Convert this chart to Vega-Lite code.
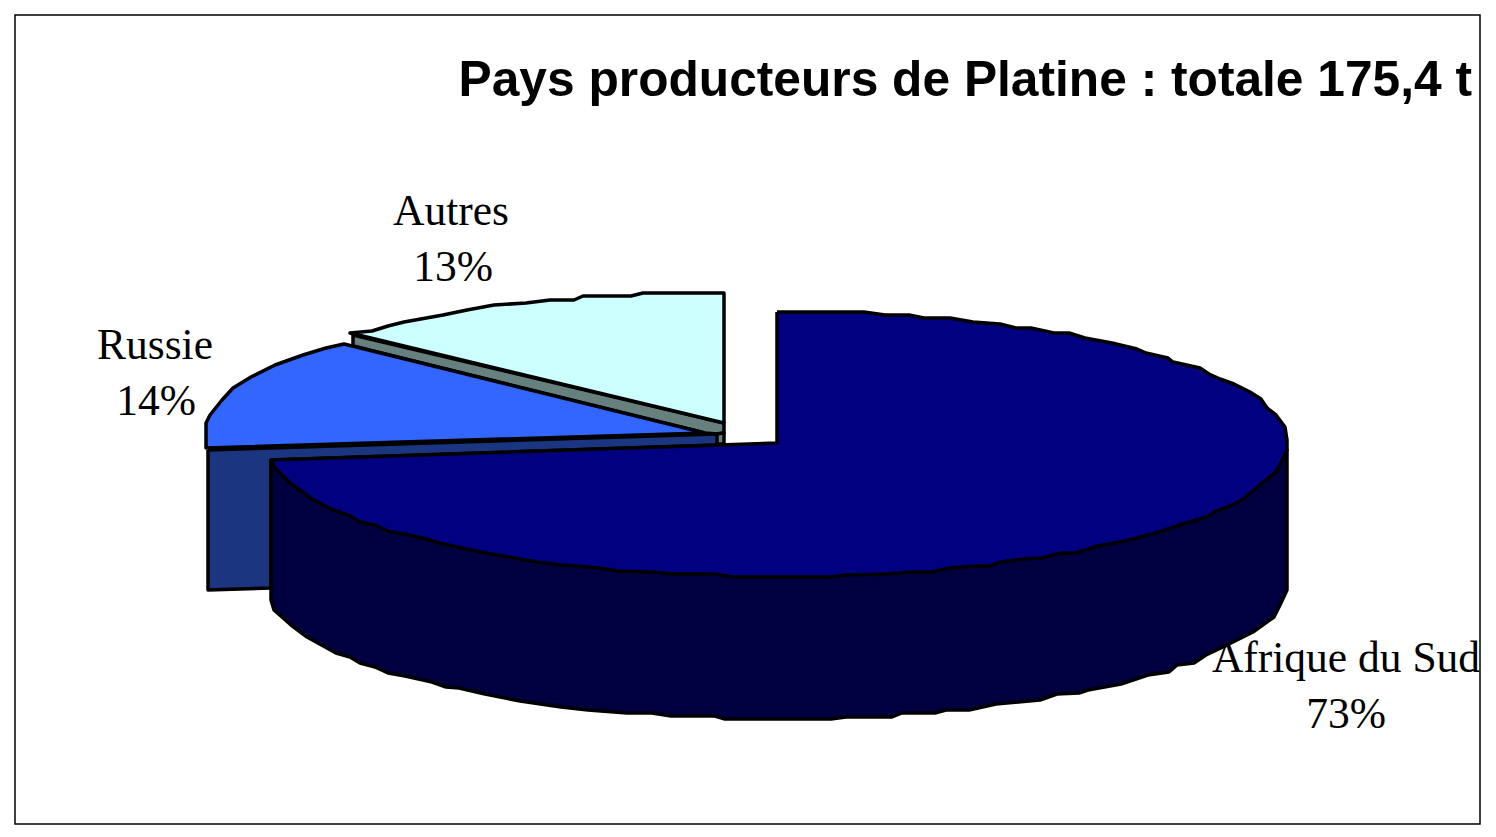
{"$schema":"https://vega.github.io/schema/vega-lite/v6.json","width":1496,"height":837,"padding":0,"autosize":"none","background":"white","config":{"view":{"stroke":null}},
"title":{"text":"Pays producteurs de Platine : totale 175,4 t","anchor":"end","dx":-24,"dy":146,"offset":0,"baseline":"alphabetic","font":"Liberation Sans","fontWeight":"bold","fontSize":49.7,"color":"black"},
"datasets":{
"frame":[{"x":15,"x2":1480,"y":15,"y2":824}],
"labels":[{"t":"Autres","x":451,"y":225},{"t":"13%","x":453,"y":281},{"t":"Russie","x":155,"y":359},{"t":"14%","x":156,"y":415},{"t":"Afrique du Sud","x":1346,"y":672},{"t":"73%","x":1346,"y":728}],
"outline":[
{"p":"1 Autres side","i":1,"x":353,"y":335},{"p":"1 Autres side","i":2,"x":353,"y":346},{"p":"1 Autres side","i":3,"x":705,"y":433},{"p":"1 Autres side","i":4,"x":717,"y":434},{"p":"1 Autres side","i":5,"x":724,"y":433},{"p":"1 Autres side","i":6,"x":724,"y":423},{"p":"1 Autres side","i":7,"x":353,"y":335},
{"p":"2 Autres base","i":1,"x":716,"y":434},{"p":"2 Autres base","i":2,"x":724,"y":433},{"p":"2 Autres base","i":3,"x":724,"y":444},{"p":"2 Autres base","i":4,"x":716,"y":444},{"p":"2 Autres base","i":5,"x":716,"y":434},
{"p":"3 Autres top","i":1,"x":724,"y":423},{"p":"3 Autres top","i":2,"x":724,"y":293},{"p":"3 Autres top","i":3,"x":643,"y":293},{"p":"3 Autres top","i":4,"x":631,"y":296},{"p":"3 Autres top","i":5,"x":583,"y":296},{"p":"3 Autres top","i":6,"x":574,"y":300},{"p":"3 Autres top","i":7,"x":550,"y":300},{"p":"3 Autres top","i":8,"x":526,"y":303},{"p":"3 Autres top","i":9,"x":494,"y":305},{"p":"3 Autres top","i":10,"x":467,"y":310},{"p":"3 Autres top","i":11,"x":443,"y":315},{"p":"3 Autres top","i":12,"x":404,"y":322},{"p":"3 Autres top","i":13,"x":388,"y":326},{"p":"3 Autres top","i":14,"x":372,"y":331},{"p":"3 Autres top","i":15,"x":350,"y":333},{"p":"3 Autres top","i":16,"x":724,"y":423},
{"p":"4 Russie side","i":1,"x":208,"y":450},{"p":"4 Russie side","i":2,"x":717,"y":434},{"p":"4 Russie side","i":3,"x":717,"y":445},{"p":"4 Russie side","i":4,"x":271,"y":460},{"p":"4 Russie side","i":5,"x":271,"y":588},{"p":"4 Russie side","i":6,"x":208,"y":590},{"p":"4 Russie side","i":7,"x":208,"y":450},
{"p":"5 Russie top","i":1,"x":705,"y":433},{"p":"5 Russie top","i":2,"x":344,"y":344},{"p":"5 Russie top","i":3,"x":326,"y":348},{"p":"5 Russie top","i":4,"x":303,"y":355},{"p":"5 Russie top","i":5,"x":275,"y":365},{"p":"5 Russie top","i":6,"x":251,"y":377},{"p":"5 Russie top","i":7,"x":233,"y":388},{"p":"5 Russie top","i":8,"x":222,"y":400},{"p":"5 Russie top","i":9,"x":210,"y":415},{"p":"5 Russie top","i":10,"x":206,"y":423},{"p":"5 Russie top","i":11,"x":206,"y":448},{"p":"5 Russie top","i":12,"x":705,"y":433},
{"p":"6 Afrique side","i":1,"x":271,"y":460},{"p":"6 Afrique side","i":2,"x":1287,"y":450},{"p":"6 Afrique side","i":3,"x":1287,"y":590},{"p":"6 Afrique side","i":4,"x":1280,"y":605},{"p":"6 Afrique side","i":5,"x":1274,"y":617},{"p":"6 Afrique side","i":6,"x":1253,"y":632},{"p":"6 Afrique side","i":7,"x":1223,"y":647},{"p":"6 Afrique side","i":8,"x":1206,"y":655},{"p":"6 Afrique side","i":9,"x":1194,"y":663},{"p":"6 Afrique side","i":10,"x":1177,"y":665},{"p":"6 Afrique side","i":11,"x":1169,"y":672},{"p":"6 Afrique side","i":12,"x":1148,"y":675},{"p":"6 Afrique side","i":13,"x":1121,"y":684},{"p":"6 Afrique side","i":14,"x":1088,"y":690},{"p":"6 Afrique side","i":15,"x":1079,"y":693},{"p":"6 Afrique side","i":16,"x":1057,"y":694},{"p":"6 Afrique side","i":17,"x":1040,"y":700},{"p":"6 Afrique side","i":18,"x":996,"y":704},{"p":"6 Afrique side","i":19,"x":969,"y":710},{"p":"6 Afrique side","i":20,"x":946,"y":710},{"p":"6 Afrique side","i":21,"x":935,"y":713},{"p":"6 Afrique side","i":22,"x":902,"y":713},{"p":"6 Afrique side","i":23,"x":892,"y":717},{"p":"6 Afrique side","i":24,"x":846,"y":717},{"p":"6 Afrique side","i":25,"x":831,"y":719},{"p":"6 Afrique side","i":26,"x":725,"y":719},{"p":"6 Afrique side","i":27,"x":715,"y":716},{"p":"6 Afrique side","i":28,"x":671,"y":716},{"p":"6 Afrique side","i":29,"x":652,"y":713},{"p":"6 Afrique side","i":30,"x":627,"y":713},{"p":"6 Afrique side","i":31,"x":588,"y":710},{"p":"6 Afrique side","i":32,"x":561,"y":707},{"p":"6 Afrique side","i":33,"x":520,"y":701},{"p":"6 Afrique side","i":34,"x":485,"y":694},{"p":"6 Afrique side","i":35,"x":459,"y":688},{"p":"6 Afrique side","i":36,"x":446,"y":687},{"p":"6 Afrique side","i":37,"x":432,"y":682},{"p":"6 Afrique side","i":38,"x":405,"y":676},{"p":"6 Afrique side","i":39,"x":388,"y":673},{"p":"6 Afrique side","i":40,"x":375,"y":667},{"p":"6 Afrique side","i":41,"x":360,"y":663},{"p":"6 Afrique side","i":42,"x":350,"y":657},{"p":"6 Afrique side","i":43,"x":336,"y":653},{"p":"6 Afrique side","i":44,"x":307,"y":637},{"p":"6 Afrique side","i":45,"x":291,"y":625},{"p":"6 Afrique side","i":46,"x":274,"y":610},{"p":"6 Afrique side","i":47,"x":271,"y":600},{"p":"6 Afrique side","i":48,"x":271,"y":460},
{"p":"7 Afrique top","i":1,"x":777,"y":312},{"p":"7 Afrique top","i":2,"x":864,"y":312},{"p":"7 Afrique top","i":3,"x":885,"y":315},{"p":"7 Afrique top","i":4,"x":909,"y":315},{"p":"7 Afrique top","i":5,"x":924,"y":318},{"p":"7 Afrique top","i":6,"x":950,"y":318},{"p":"7 Afrique top","i":7,"x":973,"y":322},{"p":"7 Afrique top","i":8,"x":1000,"y":324},{"p":"7 Afrique top","i":9,"x":1016,"y":328},{"p":"7 Afrique top","i":10,"x":1031,"y":328},{"p":"7 Afrique top","i":11,"x":1054,"y":333},{"p":"7 Afrique top","i":12,"x":1069,"y":333},{"p":"7 Afrique top","i":13,"x":1085,"y":338},{"p":"7 Afrique top","i":14,"x":1112,"y":343},{"p":"7 Afrique top","i":15,"x":1137,"y":349},{"p":"7 Afrique top","i":16,"x":1146,"y":353},{"p":"7 Afrique top","i":17,"x":1168,"y":358},{"p":"7 Afrique top","i":18,"x":1173,"y":362},{"p":"7 Afrique top","i":19,"x":1200,"y":368},{"p":"7 Afrique top","i":20,"x":1209,"y":374},{"p":"7 Afrique top","i":21,"x":1220,"y":379},{"p":"7 Afrique top","i":22,"x":1234,"y":384},{"p":"7 Afrique top","i":23,"x":1250,"y":392},{"p":"7 Afrique top","i":24,"x":1261,"y":399},{"p":"7 Afrique top","i":25,"x":1267,"y":408},{"p":"7 Afrique top","i":26,"x":1276,"y":415},{"p":"7 Afrique top","i":27,"x":1285,"y":427},{"p":"7 Afrique top","i":28,"x":1287,"y":440},{"p":"7 Afrique top","i":29,"x":1287,"y":450},{"p":"7 Afrique top","i":30,"x":1281,"y":463},{"p":"7 Afrique top","i":31,"x":1275,"y":473},{"p":"7 Afrique top","i":32,"x":1266,"y":480},{"p":"7 Afrique top","i":33,"x":1254,"y":490},{"p":"7 Afrique top","i":34,"x":1242,"y":500},{"p":"7 Afrique top","i":35,"x":1230,"y":506},{"p":"7 Afrique top","i":36,"x":1214,"y":512},{"p":"7 Afrique top","i":37,"x":1209,"y":516},{"p":"7 Afrique top","i":38,"x":1186,"y":523},{"p":"7 Afrique top","i":39,"x":1156,"y":533},{"p":"7 Afrique top","i":40,"x":1125,"y":541},{"p":"7 Afrique top","i":41,"x":1098,"y":546},{"p":"7 Afrique top","i":42,"x":1076,"y":553},{"p":"7 Afrique top","i":43,"x":1061,"y":553},{"p":"7 Afrique top","i":44,"x":1041,"y":558},{"p":"7 Afrique top","i":45,"x":1024,"y":559},{"p":"7 Afrique top","i":46,"x":1000,"y":562},{"p":"7 Afrique top","i":47,"x":990,"y":566},{"p":"7 Afrique top","i":48,"x":973,"y":566},{"p":"7 Afrique top","i":49,"x":950,"y":568},{"p":"7 Afrique top","i":50,"x":932,"y":572},{"p":"7 Afrique top","i":51,"x":909,"y":572},{"p":"7 Afrique top","i":52,"x":889,"y":574},{"p":"7 Afrique top","i":53,"x":846,"y":575},{"p":"7 Afrique top","i":54,"x":831,"y":577},{"p":"7 Afrique top","i":55,"x":733,"y":577},{"p":"7 Afrique top","i":56,"x":715,"y":574},{"p":"7 Afrique top","i":57,"x":672,"y":574},{"p":"7 Afrique top","i":58,"x":652,"y":572},{"p":"7 Afrique top","i":59,"x":618,"y":571},{"p":"7 Afrique top","i":60,"x":598,"y":568},{"p":"7 Afrique top","i":61,"x":578,"y":566},{"p":"7 Afrique top","i":62,"x":561,"y":565},{"p":"7 Afrique top","i":63,"x":537,"y":562},{"p":"7 Afrique top","i":64,"x":497,"y":555},{"p":"7 Afrique top","i":65,"x":466,"y":549},{"p":"7 Afrique top","i":66,"x":439,"y":543},{"p":"7 Afrique top","i":67,"x":426,"y":539},{"p":"7 Afrique top","i":68,"x":405,"y":534},{"p":"7 Afrique top","i":69,"x":390,"y":532},{"p":"7 Afrique top","i":70,"x":375,"y":525},{"p":"7 Afrique top","i":71,"x":360,"y":522},{"p":"7 Afrique top","i":72,"x":350,"y":516},{"p":"7 Afrique top","i":73,"x":331,"y":509},{"p":"7 Afrique top","i":74,"x":312,"y":499},{"p":"7 Afrique top","i":75,"x":290,"y":483},{"p":"7 Afrique top","i":76,"x":275,"y":468},{"p":"7 Afrique top","i":77,"x":271,"y":460},{"p":"7 Afrique top","i":78,"x":777,"y":443},{"p":"7 Afrique top","i":79,"x":777,"y":312}
]},
"layer":[
{"data":{"name":"frame"},"mark":{"type":"rect","fill":"white","stroke":"black","strokeWidth":1.5},"encoding":{"x":{"field":"x","type":"quantitative","scale":{"domain":[0,1496]},"axis":null},"x2":{"field":"x2"},"y":{"field":"y","type":"quantitative","scale":{"domain":[837,0]},"axis":null},"y2":{"field":"y2"}}},
{"data":{"name":"outline"},"mark":{"type":"line","stroke":"black","strokeWidth":3.5,"strokeJoin":"round"},"encoding":{"x":{"field":"x","type":"quantitative","scale":{"domain":[0,1496]},"axis":null},"y":{"field":"y","type":"quantitative","scale":{"domain":[837,0]},"axis":null},"order":{"field":"i","type":"quantitative"},"detail":{"field":"p"},"fill":{"field":"p","type":"nominal","legend":null,"scale":{"domain":["1 Autres side","2 Autres base","3 Autres top","4 Russie side","5 Russie top","6 Afrique side","7 Afrique top"],"range":["#668080","#668080","#CCFFFF","#1C3580","#3366FF","#000040","#000080"]}}}},
{"data":{"name":"labels"},"mark":{"type":"text","font":"Liberation Serif","fontSize":43.5,"align":"center","baseline":"alphabetic","color":"black"},"encoding":{"x":{"field":"x","type":"quantitative","scale":{"domain":[0,1496]},"axis":null},"y":{"field":"y","type":"quantitative","scale":{"domain":[837,0]},"axis":null},"text":{"field":"t"}}}
]}
